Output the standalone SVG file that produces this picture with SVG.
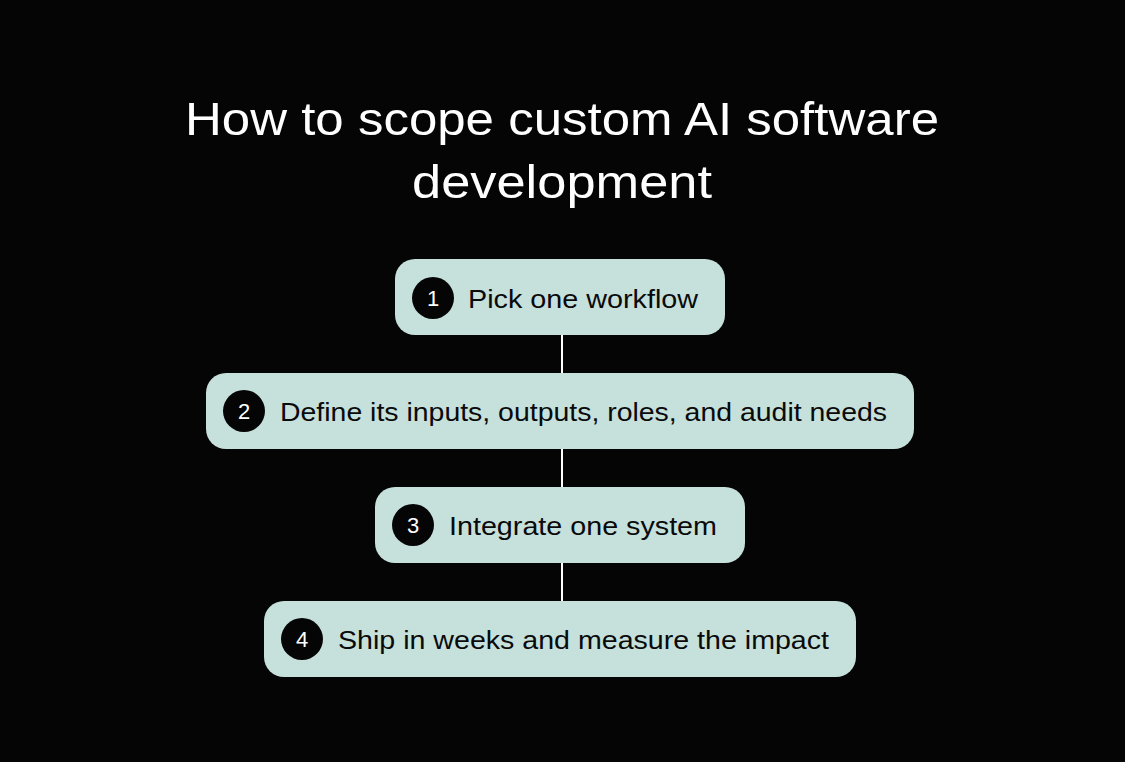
<svg xmlns="http://www.w3.org/2000/svg" width="1125" height="762" viewBox="0 0 1125 762">
<style>
.bg{fill:#050505}
.node{fill:#c6e0dc}
.badge{fill:#050505}
.num{font-family:"Liberation Sans",Arial,sans-serif;font-size:22px;fill:#ffffff;text-anchor:middle}
.lbl{font-family:"Liberation Sans",Arial,sans-serif;font-size:26px;fill:#0a0a0a}
.title{font-family:"Liberation Sans",Arial,sans-serif;font-size:46px;fill:#ffffff}
.conn{stroke:#ffffff;stroke-width:2;fill:none}
</style>
<rect class="bg" x="0" y="0" width="1125" height="762"/>
<g id="title">
<text class="title" x="185" y="135" textLength="754" lengthAdjust="spacingAndGlyphs">How to scope custom AI software</text>
<text class="title" x="412" y="198" textLength="300" lengthAdjust="spacingAndGlyphs">development</text>
</g>
<g id="connectors">
<line class="conn" x1="562" y1="335" x2="562" y2="373"/>
<line class="conn" x1="562" y1="449" x2="562" y2="487"/>
<line class="conn" x1="562" y1="563" x2="562" y2="601"/>
</g>
<g id="node1">
<rect class="node" x="395" y="259" width="330" height="76" rx="20"/>
<circle class="badge" cx="433" cy="298" r="21"/>
<text class="num" x="433" y="306">1</text>
<text class="lbl" x="468" y="307.5" textLength="230" lengthAdjust="spacingAndGlyphs">Pick one workflow</text>
</g>
<g id="node2">
<rect class="node" x="206" y="373" width="708" height="76" rx="20"/>
<circle class="badge" cx="244" cy="411" r="21"/>
<text class="num" x="244" y="419">2</text>
<text class="lbl" x="280" y="421" textLength="607" lengthAdjust="spacingAndGlyphs">Define its inputs, outputs, roles, and audit needs</text>
</g>
<g id="node3">
<rect class="node" x="375" y="487" width="370" height="76" rx="20"/>
<circle class="badge" cx="413" cy="525" r="21"/>
<text class="num" x="413" y="533">3</text>
<text class="lbl" x="449" y="535" textLength="268" lengthAdjust="spacingAndGlyphs">Integrate one system</text>
</g>
<g id="node4">
<rect class="node" x="264" y="601" width="592" height="76" rx="20"/>
<circle class="badge" cx="302" cy="639" r="21"/>
<text class="num" x="302" y="647">4</text>
<text class="lbl" x="338" y="649" textLength="491" lengthAdjust="spacingAndGlyphs">Ship in weeks and measure the impact</text>
</g>
</svg>
